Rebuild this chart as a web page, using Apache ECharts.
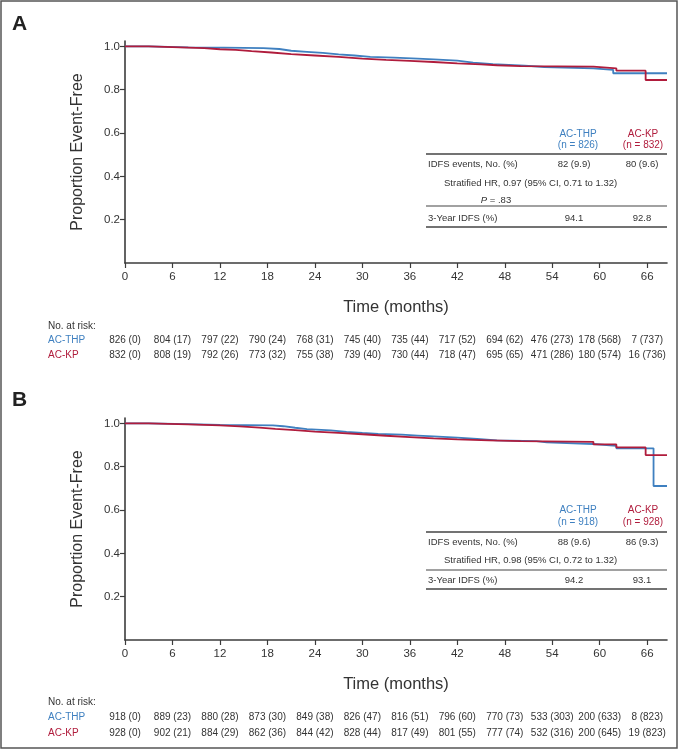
<!DOCTYPE html>
<html>
<head>
<meta charset="utf-8">
<script src="https://cdn.jsdelivr.net/npm/echarts@6/dist/echarts.min.js"></script>
<style>
html,body{margin:0;padding:0;background:#fff;}
#main{width:679px;height:750px;}
</style>
</head>
<body>
<div id="main"></div>
<script>
// ---------- DATA ----------
var monthTicks = [0, 6, 12, 18, 24, 30, 36, 42, 48, 54, 60, 66];
var yTicks = [0.2, 0.4, 0.6, 0.8, 1.0];

// Panel A Kaplan-Meier steps (time in months, proportion event-free)
var timeA_THP = [0, 3, 8, 12.5, 17.5, 19.5, 21, 23, 25, 27, 29, 31, 34, 37, 39, 42, 44, 46.5, 50.5, 53, 59.2, 61.7, 68.5];
var survA_THP = [1.0, 0.996, 0.994, 0.992, 0.988, 0.980, 0.975, 0.970, 0.963, 0.958, 0.952, 0.948, 0.944, 0.940, 0.934, 0.925, 0.918, 0.911, 0.905, 0.899, 0.892, 0.876, 0.876];
var timeA_KP = [0, 3, 10, 12, 14, 16, 18.5, 21, 24, 27, 30, 33, 36, 39, 42, 45, 47, 50, 59.2, 62.1, 65.8, 68.5];
var survA_KP = [1.0, 0.992, 0.987, 0.984, 0.978, 0.972, 0.964, 0.958, 0.952, 0.944, 0.938, 0.933, 0.928, 0.922, 0.917, 0.913, 0.909, 0.907, 0.899, 0.888, 0.845, 0.845];

// Panel B
var timeB_THP = [0, 3, 8, 12, 18.7, 20, 21.5, 23, 26, 28, 30, 32, 35, 37, 39, 42, 44.5, 47, 52, 53.3, 59.2, 62.1, 66.8, 68.5];
var survB_THP = [1.0, 0.997, 0.993, 0.991, 0.987, 0.980, 0.974, 0.968, 0.961, 0.956, 0.952, 0.948, 0.944, 0.940, 0.934, 0.928, 0.922, 0.918, 0.912, 0.905, 0.896, 0.885, 0.711, 0.711];
var timeB_KP = [0, 3, 8, 12, 14.5, 17, 19, 21.5, 24, 27, 30, 33, 36, 39, 42, 46, 50, 59.2, 62.1, 65.8, 68.5];
var survB_KP = [1.0, 0.996, 0.991, 0.986, 0.981, 0.975, 0.969, 0.962, 0.956, 0.950, 0.943, 0.937, 0.931, 0.926, 0.922, 0.918, 0.915, 0.903, 0.889, 0.854, 0.854];

// Numbers at risk (censored)
var riskA_THP_n = [826, 804, 797, 790, 768, 745, 735, 717, 694, 476, 178, 7];
var riskA_THP_c = [0, 17, 22, 24, 31, 40, 44, 52, 62, 273, 568, 737];
var riskA_KP_n = [832, 808, 792, 773, 755, 739, 730, 718, 695, 471, 180, 16];
var riskA_KP_c = [0, 19, 26, 32, 38, 40, 44, 47, 65, 286, 574, 736];
var riskB_THP_n = [918, 889, 880, 873, 849, 826, 816, 796, 770, 533, 200, 8];
var riskB_THP_c = [0, 23, 28, 30, 38, 47, 51, 60, 73, 303, 633, 823];
var riskB_KP_n = [928, 902, 884, 862, 844, 828, 817, 801, 777, 532, 200, 19];
var riskB_KP_c = [0, 21, 29, 36, 42, 44, 49, 55, 74, 316, 645, 823];

var armNames = ['AC-THP', 'AC-KP'];
var nA = [826, 832];
var nB = [918, 928];
var eventsA = ['82 (9.9)', '80 (9.6)'];
var eventsB = ['88 (9.6)', '86 (9.3)'];
var hrA = 'Stratified HR, 0.97 (95% CI, 0.71 to 1.32)';
var hrB = 'Stratified HR, 0.98 (95% CI, 0.72 to 1.32)';
var pA = ' = .83';
var idfs3A = ['94.1', '92.8'];
var idfs3B = ['94.2', '93.1'];

// ---------- STYLE ----------
var BLUE = '#3f80c0';
var RED = '#b01c3c';
var AX = '#3c3c3c';
var TXT = '#333333';
var FONT = '"Liberation Sans", Arial, Helvetica, sans-serif';

function zip(t, s) { return t.map(function (v, i) { return [v, s[i]]; }); }

var chart = echarts.init(document.getElementById('main'), null, { renderer: 'canvas' });

function xAxisDef(gi) {
  return {
    type: 'value', gridIndex: gi, min: 0, max: 68.5, interval: 6,
    axisLine: { show: true, lineStyle: { color: AX, width: 1.6 } },
    axisTick: { show: true, length: 5, lineStyle: { color: AX, width: 1.2 }, customValues: monthTicks },
    axisLabel: { show: true, color: TXT, fontSize: 11.5, fontFamily: FONT, margin: 8, customValues: monthTicks },
    splitLine: { show: false }
  };
}
function yAxisDef(gi) {
  return {
    type: 'value', gridIndex: gi, min: 0, max: 1.025, interval: 0.2,
    axisLine: { show: true, onZero: false, lineStyle: { color: AX, width: 1.6 } },
    axisTick: { show: true, length: 5, lineStyle: { color: AX, width: 1.2 }, customValues: yTicks },
    axisLabel: { show: true, color: TXT, fontSize: 11.5, fontFamily: FONT, margin: 5, customValues: yTicks,
      formatter: function (v) { return v.toFixed(1); } },
    splitLine: { show: false }
  };
}
function kmSeries(name, gi, data, color) {
  return {
    name: name, type: 'line', xAxisIndex: gi, yAxisIndex: gi, step: 'end',
    showSymbol: false, symbol: 'none', data: data, animation: false,
    lineStyle: { color: color, width: 1.8 }, z: color === RED ? 3 : 2
  };
}

var option = {
  animation: false,
  backgroundColor: '#ffffff',
  textStyle: { fontFamily: FONT },
  grid: [
    { left: 125, top: 41, width: 542, height: 222 },
    { left: 125, top: 418, width: 542, height: 222 }
  ],
  xAxis: [xAxisDef(0), xAxisDef(1)],
  yAxis: [yAxisDef(0), yAxisDef(1)],
  series: [
    kmSeries('AC-THP', 0, zip(timeA_THP, survA_THP), BLUE),
    kmSeries('AC-KP', 0, zip(timeA_KP, survA_KP), RED),
    kmSeries('AC-THP', 1, zip(timeB_THP, survB_THP), BLUE),
    kmSeries('AC-KP', 1, zip(timeB_KP, survB_KP), RED)
  ]
};
chart.setOption(option);

// ---------- annotations ----------
var g = [];
function txt(x, y, s, o) {
  o = o || {};
  g.push({
    type: 'text', x: x, y: y, rotation: o.rotation || 0, z: 10,
    style: {
      text: s, fill: o.color || TXT, fontSize: o.size || 10, fontFamily: FONT,
      fontWeight: o.weight || 'normal', fontStyle: o.italic ? 'italic' : 'normal',
      align: o.align || 'left', verticalAlign: 'middle', rich: o.rich
    }
  });
}
function hline(x1, x2, y, w, c) {
  g.push({ type: 'line', z: 10, shape: { x1: x1, y1: y, x2: x2, y2: y }, style: { stroke: c || '#444', lineWidth: w || 1.5 } });
}

// outer frame
g.push({ type: 'rect', z: 20, shape: { x: 1, y: 1, width: 676, height: 747 }, style: { fill: 'none', stroke: '#555', lineWidth: 1.5 } });

function panel(gi, letter, letterY, risk, riskYs, leg) {
  var grid = option.grid[gi];
  var midY = grid.top + grid.height / 2;
  var bottomY = grid.top + grid.height;
  txt(12, letterY, letter, { size: 21, weight: 'bold', color: '#222' });
  txt(78, midY, 'Proportion Event-Free', { size: 16, rotation: Math.PI / 2, align: 'center', color: '#333' });
  txt(grid.left + grid.width / 2, bottomY + 44, 'Time (months)', { size: 16.5, align: 'center', color: '#333' });
  // risk table
  txt(48, riskYs[0], 'No. at risk:', { size: 10 });
  txt(48, riskYs[1], armNames[0], { size: 10, color: BLUE });
  txt(48, riskYs[2], armNames[1], { size: 10, color: RED });
  for (var i = 0; i < monthTicks.length; i++) {
    var px = chart.convertToPixel({ xAxisIndex: gi }, monthTicks[i]);
    txt(px, riskYs[1], risk[0][i] + ' (' + risk[1][i] + ')', { size: 10, align: 'center' });
    txt(px, riskYs[2], risk[2][i] + ' (' + risk[3][i] + ')', { size: 10, align: 'center' });
  }
  // inset table
  var c1 = 578, c2 = 643, L = 426, R = 667;
  txt(c1, leg.h1, armNames[0], { size: 10, color: BLUE, align: 'center' });
  txt(c1, leg.h2, '(n = ' + leg.n[0] + ')', { size: 10, color: BLUE, align: 'center' });
  txt(c2, leg.h1, armNames[1], { size: 10, color: RED, align: 'center' });
  txt(c2, leg.h2, '(n = ' + leg.n[1] + ')', { size: 10, color: RED, align: 'center' });
  hline(L, R, leg.l1, 1.6);
  txt(428, leg.ev, 'IDFS events, No. (%)', { size: 9.5 });
  txt(574, leg.ev, leg.events[0], { size: 9.5, align: 'center' });
  txt(642, leg.ev, leg.events[1], { size: 9.5, align: 'center' });
  txt(444, leg.hr, leg.hrText, { size: 9.5 });
  if (leg.p) {
    txt(496, leg.p, '{i|P}' + pA, { size: 9.5, align: 'center',
      rich: { i: { fontStyle: 'italic', fontSize: 9.5, fontFamily: FONT, fill: TXT } } });
  }
  hline(L, R, leg.l2, 1.2);
  txt(428, leg.yr, '3-Year IDFS (%)', { size: 9.5 });
  txt(574, leg.yr, leg.idfs[0], { size: 9.5, align: 'center' });
  txt(642, leg.yr, leg.idfs[1], { size: 9.5, align: 'center' });
  hline(L, R, leg.l3, 1.6);
}

panel(0, 'A', 24, [riskA_THP_n, riskA_THP_c, riskA_KP_n, riskA_KP_c], [326, 340, 355],
  { h1: 134, h2: 145, l1: 154, ev: 164, hr: 183, p: 200, l2: 206, yr: 218, l3: 227,
    n: nA, events: eventsA, hrText: hrA, idfs: idfs3A });
panel(1, 'B', 400, [riskB_THP_n, riskB_THP_c, riskB_KP_n, riskB_KP_c], [702, 717, 733],
  { h1: 510, h2: 522, l1: 532, ev: 542, hr: 560, p: null, l2: 570, yr: 580, l3: 589,
    n: nB, events: eventsB, hrText: hrB, idfs: idfs3B });

chart.setOption({ graphic: g });
</script>
</body>
</html>
